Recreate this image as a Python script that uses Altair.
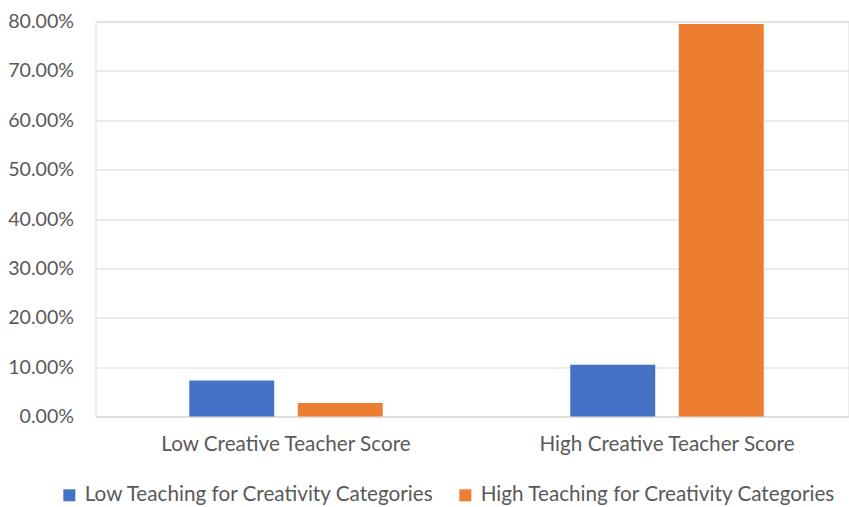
import altair as alt
import pandas as pd

categories = ["Low Creative Teacher Score", "High Creative Teacher Score"]
series = ["Low Teaching for Creativity Categories", "High Teaching for Creativity Categories"]
low_teaching = [0.0729, 0.1047]
high_teaching = [0.0271, 0.7947]
colors = ["#4472C4", "#ED7D31"]

rows = []
for i, c in enumerate(categories):
    rows.append({"cat": c, "series": series[0], "value": low_teaching[i]})
    rows.append({"cat": c, "series": series[1], "value": high_teaching[i]})
df = pd.DataFrame(rows)

FONT = "Lato"
TXT = "#595959"

chart = alt.Chart(df).mark_bar().encode(
    x=alt.X("cat:N", sort=categories, title=None,
            scale=alt.Scale(range=[0, 762], paddingInner=0, paddingOuter=0),
            axis=alt.Axis(labelAngle=0, ticks=False, domain=True, domainColor="#D9D9D9",
                          labelFont=FONT, labelFontSize=20.7, labelColor=TXT, labelPadding=18,
                          labelLimit=400)),
    xOffset=alt.XOffset("series:N", sort=series,
                        scale=alt.Scale(paddingInner=0.217, paddingOuter=0.864)),
    y=alt.Y("value:Q", title=None,
            scale=alt.Scale(domain=[0, 0.8], nice=False),
            axis=alt.Axis(format=".2%", values=[i / 10 for i in range(9)], ticks=False, domain=False,
                          gridColor="#D9D9D9", labelFont=FONT, labelFontSize=19.6, labelColor=TXT,
                          labelPadding=22)),
    color=alt.Color("series:N", sort=series,
                    scale=alt.Scale(domain=series, range=colors),
                    legend=alt.Legend(title=None, orient="none", direction="horizontal",
                                      legendX=-36.5, legendY=463, symbolType="square",
                                      symbolSize=144, symbolStrokeWidth=0, labelFont=FONT,
                                      labelFontSize=20.7, labelColor=TXT, labelOffset=5,
                                      columnPadding=20, labelLimit=500)),
).properties(
    width=753, height=395,
    autosize=alt.AutoSizeParams(type="none"),
    padding={"left": 95.5, "top": 21.5, "right": 0, "bottom": 90.5},
).configure_view(stroke=None).configure(background="white")

chart.save("out.html", embed_options={"renderer": "svg", "actions": False})
